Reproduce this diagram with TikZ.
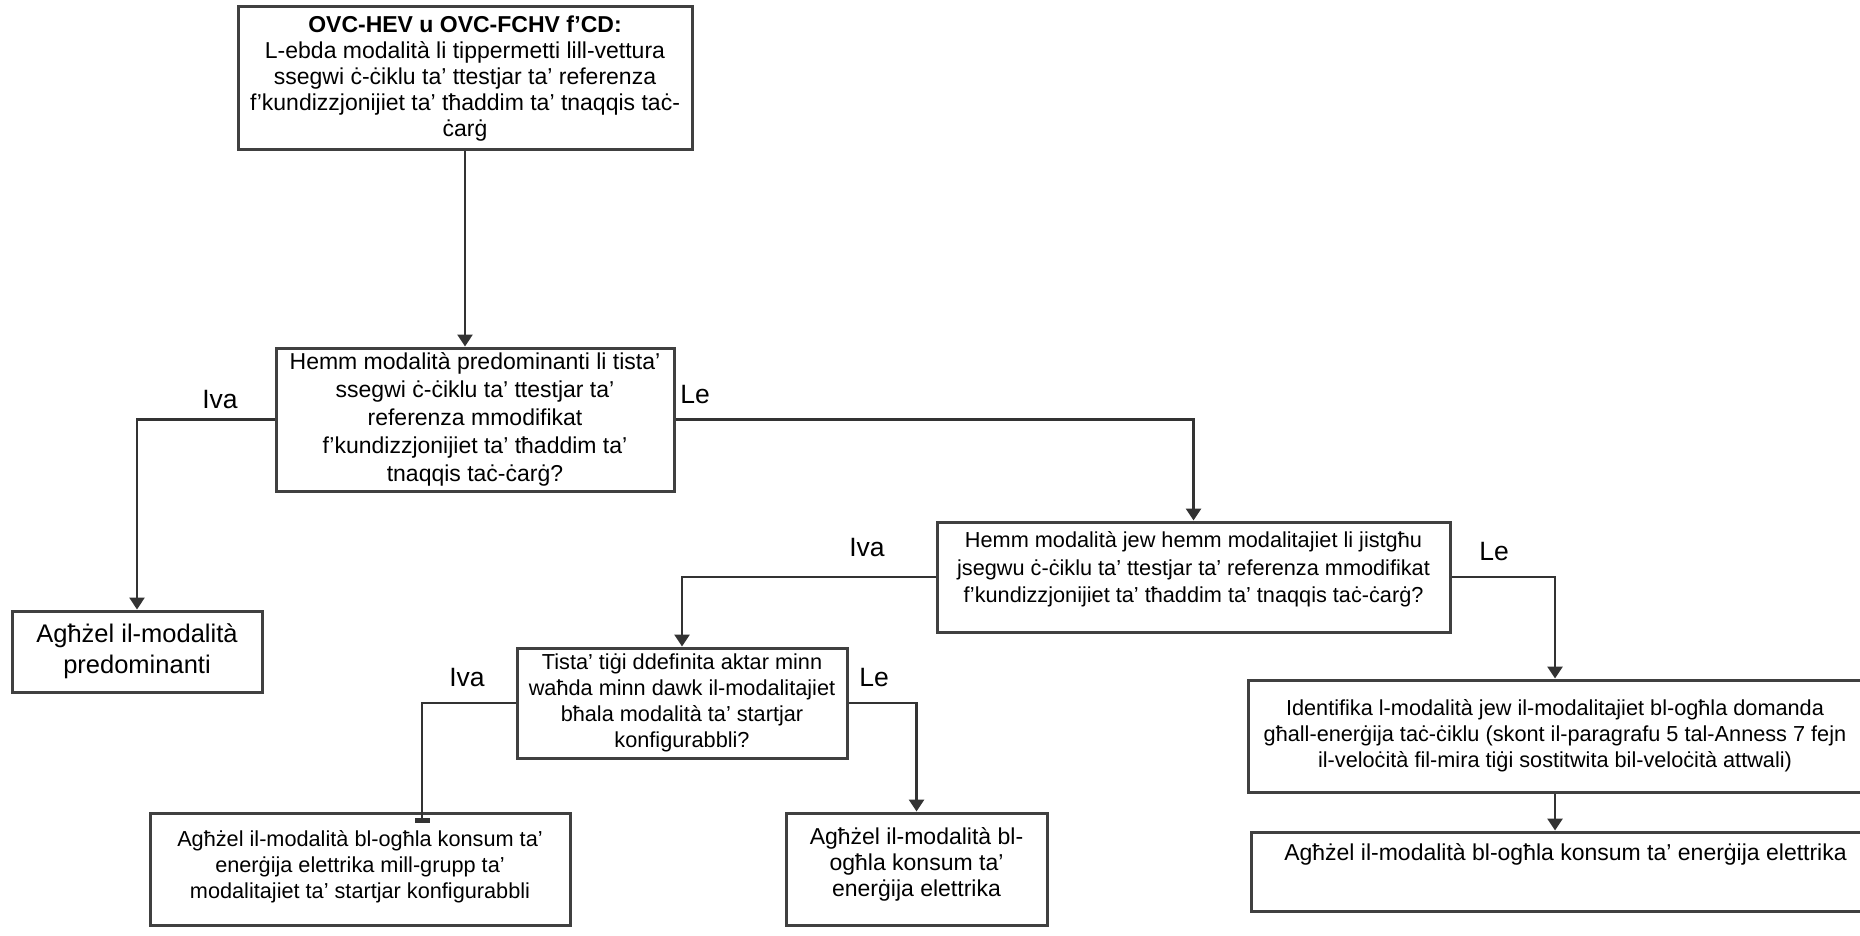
\documentclass[tikz,border=0pt]{standalone}
\usepackage{fontspec}
\setmainfont{Liberation Sans}
\usetikzlibrary{arrows.meta}

\begin{document}
\begin{tikzpicture}[x=1pt,y=-1pt,
  flowbox/.style={draw=black!75,line width=3pt,align=center,inner sep=0pt,font=\fontsize{23}{26}\selectfont},
  smalltxt/.style={font=\fontsize{21.7}{26}\selectfont},
  conn/.style={line width=2.8pt,draw=black!80,-{Triangle[width=15pt,length=12pt]}},
  yn/.style={font=\fontsize{26.5}{28}\selectfont}]
 \useasboundingbox (0,0) rectangle (1860,936);
 % boxes
 \node[flowbox,minimum width=454pt,minimum height=143pt] (top) at (465,78.5)
  {\textbf{OVC-HEV u OVC-FCHV f’CD:}\\L-ebda modalità li tippermetti lill-vettura\\ssegwi ċ-ċiklu ta’ ttestjar ta’ referenza\\f’kundizzjonijiet ta’ tħaddim ta’ tnaqqis taċ-\\ċarġ};
 \node[flowbox,minimum width=398pt,minimum height=143pt,font=\fontsize{23}{28}\selectfont] (q1) at (475,419.5)
  {Hemm modalità predominanti li tista’\\ssegwi ċ-ċiklu ta’ ttestjar ta’\\referenza mmodifikat\\f’kundizzjonijiet ta’ tħaddim ta’\\tnaqqis taċ-ċarġ?};
 \node[flowbox,minimum width=250pt,minimum height=81pt,font=\fontsize{25.5}{31}\selectfont] (pick1) at (137,651.5)
  {Agħżel il-modalità\\predominanti};
 \node[flowbox,minimum width=513pt,minimum height=110pt,font=\fontsize{21.7}{27.5}\selectfont] (q2) at (1193.5,577)
  {Hemm modalità jew hemm modalitajiet li jistgħu\\jsegwu ċ-ċiklu ta’ ttestjar ta’ referenza mmodifikat\\f’kundizzjonijiet ta’ tħaddim ta’ tnaqqis taċ-ċarġ?\\[-8pt]\mbox{}};
 \node[flowbox,smalltxt,minimum width=330pt,minimum height=110pt] (q3) at (682,703)
  {Tista’ tiġi ddefinita aktar minn\\waħda minn dawk il-modalitajiet\\bħala modalità ta’ startjar\\konfigurabbli?};
 \node[flowbox,smalltxt,minimum width=420pt,minimum height=112pt] (pick2) at (360,869)
  {Agħżel il-modalità bl-ogħla konsum ta’\\enerġija elettrika mill-grupp ta’\\modalitajiet ta’ startjar konfigurabbli\\[-17pt]\mbox{}};
 \node[flowbox,minimum width=261pt,minimum height=112pt] (pick3) at (916.5,869)
  {Agħżel il-modalità bl-\\ogħla konsum ta’\\enerġija elettrika\\[-12pt]\mbox{}};
 \node[flowbox,smalltxt,minimum width=614pt,minimum height=112pt] (ident) at (1555,736)
  {Identifika l-modalità jew il-modalitajiet bl-ogħla domanda\\għall-enerġija taċ-ċiklu (skont il-paragrafu 5 tal-Anness 7 fejn\\il-veloċità fil-mira tiġi sostitwita bil-veloċità attwali)};
 \node[flowbox,minimum width=629pt,text height=28pt,text depth=51pt] (pick4) at (1565.5,871.5)
  {Agħżel il-modalità bl-ogħla konsum ta’ enerġija elettrika};
 % answers
 \node[yn] (iva1) at (220,400) {Iva};
 \node[yn] (le1) at (695,395) {Le};
 \node[yn] (iva2) at (867,548) {Iva};
 \node[yn] (le2) at (1494,552) {Le};
 \node[yn] (iva3) at (467,678) {Iva};
 \node[yn] (le3) at (874,678) {Le};
 % connectors
 \draw[conn] (top.south) -- (top.south |- q1.north);
 \draw[conn] (q1.west) -| (pick1.north);
 \draw[conn] (q1.east) -| (q2.north);
 \draw[conn] (q2.west) -| (q3.north);
 \draw[conn] (q2.east) -| (ident.north);
 \draw[conn] (q3.east) -| (pick3.north);
 \draw[conn] (ident.south) -- (ident.south |- pick4.north);
 \coordinate (ivaturn) at (422,705);
 \draw[conn,-{Rectangle[width=15pt,length=5pt]}] (q3.west) -| ([yshift=-11pt]ivaturn |- pick2.north);
\end{tikzpicture}
\end{document}
